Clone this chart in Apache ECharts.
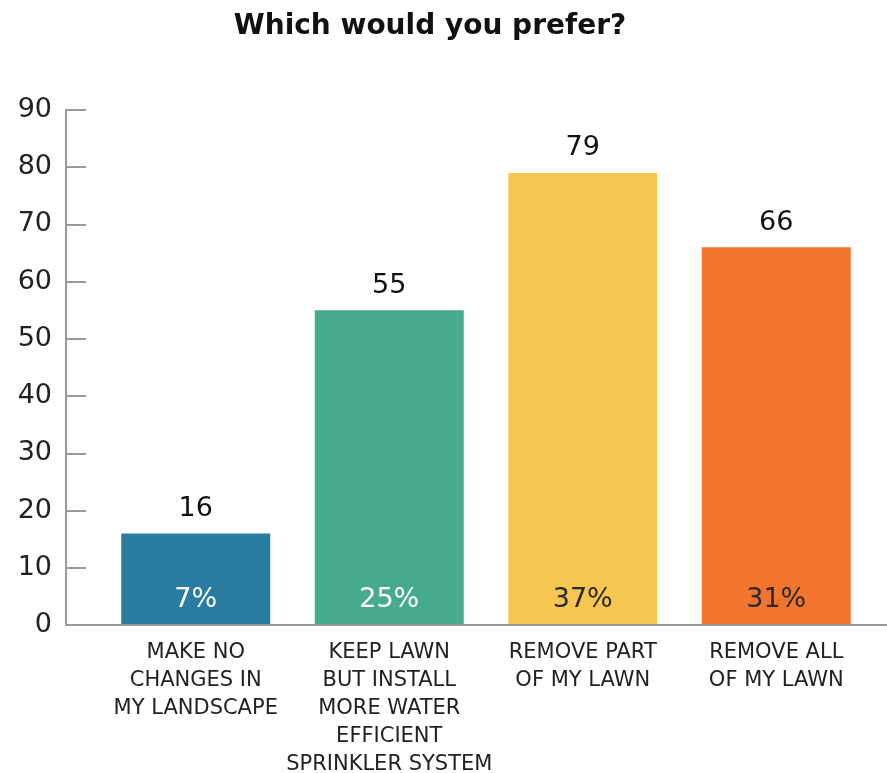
<!DOCTYPE html>
<html>
<head>
<meta charset="utf-8">
<script src="https://cdn.jsdelivr.net/npm/echarts@6/dist/echarts.min.js"></script>
<style>
  html, body { margin: 0; padding: 0; background: #fff; }
  #chart { width: 887px; height: 773px; }
</style>
</head>
<body>
<div id="chart"></div>
<script>
// Survey answers and counts
const categories = [
  'MAKE NO\nCHANGES IN\nMY LANDSCAPE',
  'KEEP LAWN\nBUT INSTALL\nMORE WATER\nEFFICIENT\nSPRINKLER SYSTEM',
  'REMOVE PART\nOF MY LAWN',
  'REMOVE ALL\nOF MY LAWN'
];
const counts = [16, 55, 79, 66];
const percents = [7, 25, 37, 31];
const barColors = ['#2a7ca0', '#46ab8c', '#f7c651', '#f2742e'];
const pctColors = ['#ffffff', '#ffffff', '#2b2b2b', '#2b2b2b'];

const FONT = '"DejaVu Sans", "Noto Sans", sans-serif';
const AXIS_GREY = '#9a9a9a';

const chart = echarts.init(document.getElementById('chart'), null, { renderer: 'canvas' });

chart.setOption({
  animation: false,
  backgroundColor: '#ffffff',
  title: {
    text: 'Which would you prefer?',
    left: 425,
    top: 8,
    textAlign: 'center',
    textStyle: { fontFamily: FONT, fontSize: 28, fontWeight: 'bold', color: '#111' }
  },
  grid: { left: 99, right: 14, top: 110, bottom: 148, outerBoundsMode: 'none', containLabel: false },
  xAxis: {
    type: 'category',
    data: categories,
    axisLine: { show: false },
    axisTick: { show: false },
    axisLabel: {
      interval: 0,
      margin: 14,
      fontFamily: FONT,
      fontSize: 21,
      lineHeight: 28,
      color: '#222',
      align: 'center'
    }
  },
  yAxis: {
    type: 'value',
    min: 0,
    max: 90,
    interval: 10,
    offset: 33,
    axisLine: { show: true, lineStyle: { color: AXIS_GREY, width: 2 } },
    axisTick: { show: true, inside: true, length: 20, lineStyle: { color: AXIS_GREY, width: 2 } },
    splitLine: { show: false },
    axisLabel: { margin: 14, fontFamily: FONT, fontSize: 27, color: '#222' }
  },
  series: [
    {
      type: 'bar',
      data: counts.map((v, i) => ({ value: v, itemStyle: { color: barColors[i] } })),
      barCategoryGap: '23%',
      label: {
        show: true,
        position: 'top',
        distance: 11,
        fontFamily: FONT,
        fontSize: 27,
        color: '#111'
      },
      z: 2
    },
    {
      type: 'bar',
      data: counts.map((v, i) => ({
        value: v,
        label: { color: pctColors[i] }
      })),
      barGap: '-100%',
      barCategoryGap: '23%',
      itemStyle: { color: 'rgba(0,0,0,0)' },
      label: {
        show: true,
        position: 'insideBottom',
        distance: 12,
        fontFamily: FONT,
        fontSize: 27,
        formatter: p => percents[p.dataIndex] + '%'
      },
      z: 3
    }
  ]
});

// Baseline along the value axis zero, spanning from the y axis to the right edge
const y0 = chart.convertToPixel({ yAxisIndex: 0 }, 0);
chart.setOption({
  graphic: [{
    type: 'line',
    shape: { x1: 66, y1: y0, x2: 887, y2: y0 },
    style: { stroke: AXIS_GREY, lineWidth: 2 },
    z: 10
  }]
});
</script>
</body>
</html>
